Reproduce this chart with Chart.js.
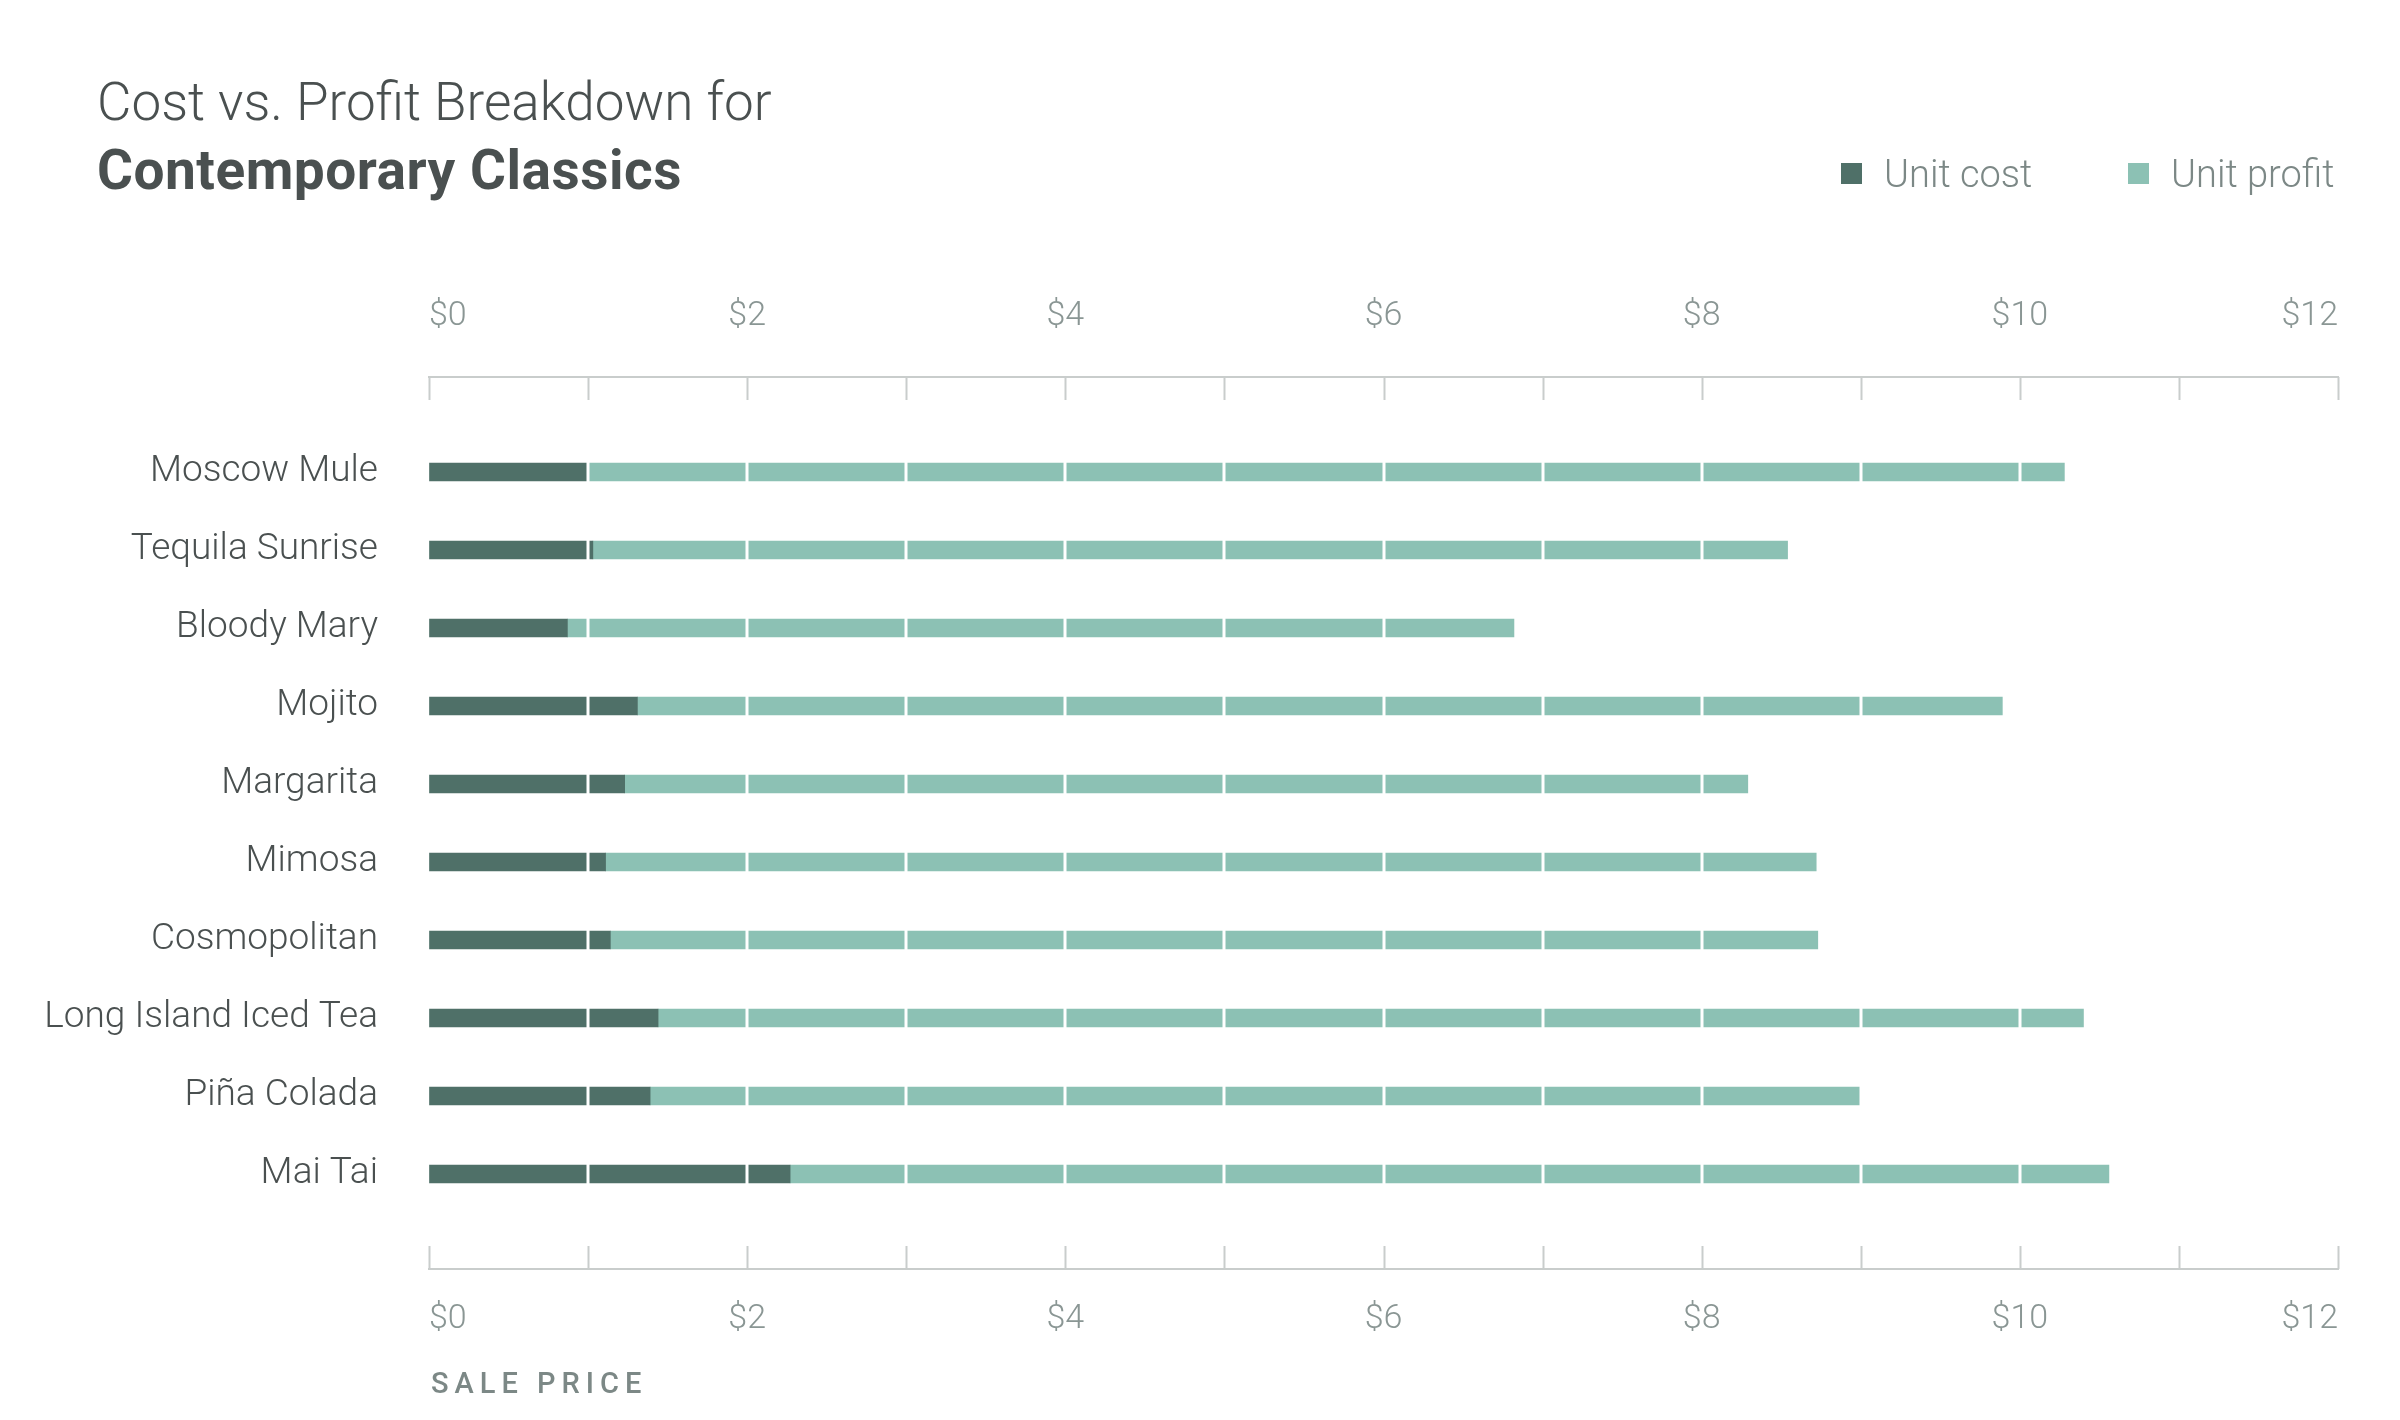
<!DOCTYPE html>
<html><head><meta charset="utf-8">
<script src="https://cdn.jsdelivr.net/npm/chart.js@4"></script>
<style>
html,body{margin:0;padding:0;background:#fff;width:2400px;height:1420px;overflow:hidden;font-family:Roboto,"Noto Sans",sans-serif;}
#wrap{position:relative;width:2400px;height:1420px;}
canvas{position:absolute;left:0;top:0;}
.t1{position:absolute;left:97px;top:71px;font-size:53px;font-weight:300;color:#4a5050;white-space:nowrap;}
.t2{position:absolute;left:97px;top:138px;font-size:55px;font-weight:700;color:#4a5050;white-space:nowrap;letter-spacing:0.5px;}
.leg{position:absolute;top:152px;font-size:38px;font-weight:300;color:#7c8886;white-space:nowrap;}
.sw{display:inline-block;width:21px;height:21px;margin-right:22px;vertical-align:middle;position:relative;top:-3px;}
.xt{position:absolute;left:431px;top:1366px;font-size:29px;font-weight:500;letter-spacing:6px;color:#7c8886;}
</style></head>
<body><div id="wrap">
<canvas id="c" width="2400" height="1420"></canvas>
<div class="t1">Cost vs. Profit Breakdown for</div>
<div class="t2">Contemporary Classics</div>
<div class="leg" style="left:1841px"><span class="sw" style="background:#4f7068"></span>Unit cost</div>
<div class="leg" style="left:2128px"><span class="sw" style="background:#8cc1b4"></span>Unit profit</div>
<div class="xt">SALE PRICE</div>
</div>
<script>
const categories = ["Moscow Mule","Tequila Sunrise","Bloody Mary","Mojito","Margarita","Mimosa","Cosmopolitan","Long Island Iced Tea","Piña Colada","Mai Tai"];
const unitCost = [1.00,1.03,0.87,1.31,1.23,1.11,1.14,1.44,1.39,2.27];
const salePrice = [10.28,8.54,6.82,9.89,8.29,8.72,8.73,10.40,9.00,10.56];
const unitProfit = salePrice.map((p,i)=>+(p-unitCost[i]).toFixed(2));
const xTickValues = [0,2,4,6,8,10,12];

const COST='#4f7068', PROFIT='#8cc1b4', AXIS='#c9cdcc', TICK='#8a9694';

const overlay = {
  id:'overlay',
  afterDatasetsDraw(chart){
    const {ctx, chartArea:a, scales} = chart;
    const x = scales.x;
    ctx.save();
    ctx.strokeStyle='#fff'; ctx.lineWidth=3;
    for(let v=1; v<12; v++){
      const px = Math.round(x.getPixelForValue(v));
      ctx.beginPath(); ctx.moveTo(px,a.top+30); ctx.lineTo(px,a.bottom-30); ctx.stroke();
    }
    ctx.restore();
  },
  afterDraw(chart){
    const {ctx, chartArea:a, scales} = chart;
    const x = scales.x;
    ctx.save();
    ctx.strokeStyle=AXIS; ctx.lineWidth=2;
    for(let v=0; v<=12; v++){
      const px = Math.round(x.getPixelForValue(v))+0.5;
      ctx.beginPath(); ctx.moveTo(px,a.top); ctx.lineTo(px,a.top+23); ctx.stroke();
      ctx.beginPath(); ctx.moveTo(px,a.bottom); ctx.lineTo(px,a.bottom-23); ctx.stroke();
    }
    ctx.restore();
  }
};

const xCommon = (pos, pad) => ({
  type:'linear', position:pos, min:0, max:12, stacked:true,
  afterBuildTicks(s){ s.ticks = xTickValues.map(v=>({value:v})); },
  grid:{display:true, drawOnChartArea:false, drawTicks:false},
  border:{display:true, color:AXIS, width:2},
  ticks:{padding:pad, align:'inner', color:TICK, font:{family:'Roboto', size:34, weight:300}, callback:v=>'$'+v, maxRotation:0, autoSkip:false}
});

new Chart(document.getElementById('c'), {
  type:'bar',
  data:{datasets:[
    {label:'Unit cost', data:unitCost.map((v,i)=>({x:v,y:i})), backgroundColor:COST, barThickness:18, borderWidth:0},
    {label:'Unit profit', data:unitProfit.map((v,i)=>({x:v,y:i})), backgroundColor:PROFIT, barThickness:18, borderWidth:0}
  ]},
  options:{
    responsive:false, animation:false, indexAxis:'y',
    layout:{padding:{left:0,right:62,top:0,bottom:0}},
    plugins:{legend:{display:false}, tooltip:{enabled:false}},
    scales:{
      x: Object.assign(xCommon('bottom',30), {afterFit(s){s.height=151;}}),
      x2: Object.assign(xCommon('top',40), {afterFit(s){s.height=377;}}),
      y:{
        type:'linear', reverse:true, min:-1.218, max:10.218, stacked:true, offset:false,
        afterBuildTicks(s){ s.ticks = categories.map((_,i)=>({value:i})); },
        afterFit(s){ s.width=429; },
        grid:{display:false, offset:false}, border:{display:false},
        ticks:{padding:43, color:'#4a5050', font:{family:'Roboto', size:37, weight:300}, callback:v=>categories[v]||'', autoSkip:false}
      }
    }
  },
  plugins:[overlay]
});
</script>
</body></html>
